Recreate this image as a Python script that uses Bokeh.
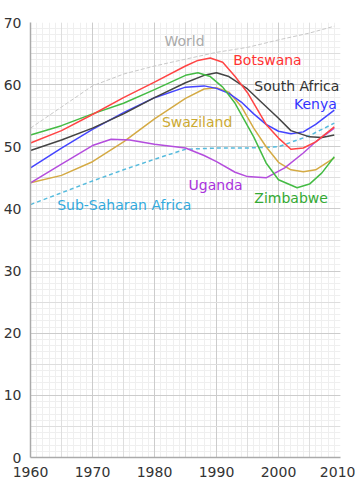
from bokeh.plotting import figure
from bokeh.models import Range1d, SingleIntervalTicker, Grid, Label
from bokeh.embed import file_html
from bokeh.resources import INLINE

# ---------------- data ----------------
world_years = [1960, 1965, 1970, 1975, 1980, 1985, 1990, 1995, 2000, 2005, 2009]
world = [53.0, 56.4, 59.8, 61.7, 63.0, 64.1, 65.2, 66.0, 67.2, 68.3, 69.4]

botswana_years = [1960, 1965, 1970, 1975, 1980, 1985, 1987, 1989, 1991, 1993, 1995, 1998, 2000, 2002, 2004, 2006, 2009]
botswana = [50.6, 52.6, 55.2, 57.9, 60.4, 63.0, 63.9, 64.3, 63.6, 61.3, 58.7, 53.6, 51.4, 49.6, 49.8, 50.8, 53.2]

zimbabwe_years = [1960, 1965, 1970, 1975, 1980, 1985, 1987, 1989, 1991, 1993, 1996, 1998, 2000, 2003, 2005, 2007, 2009]
zimbabwe = [51.9, 53.4, 55.3, 57.0, 59.2, 61.5, 61.9, 61.3, 59.6, 57.0, 51.6, 47.4, 44.7, 43.4, 44.0, 45.8, 48.4]

south_africa_years = [1960, 1965, 1970, 1975, 1980, 1985, 1988, 1990, 1992, 1995, 1997, 2000, 2002, 2005, 2007, 2009]
south_africa = [49.4, 51.1, 53.0, 55.3, 57.9, 60.3, 61.5, 61.9, 61.3, 59.3, 57.4, 54.6, 52.6, 51.6, 51.5, 51.9]

kenya_years = [1960, 1965, 1970, 1975, 1980, 1985, 1988, 1990, 1992, 1994, 1996, 1998, 2000, 2002, 2004, 2006, 2009]
kenya = [46.6, 49.8, 52.8, 55.5, 57.9, 59.6, 59.8, 59.4, 58.6, 57.2, 55.3, 53.6, 52.5, 52.1, 52.4, 53.6, 55.9]

swaziland_years = [1960, 1965, 1970, 1975, 1980, 1985, 1988, 1990, 1992, 1994, 1996, 1998, 2000, 2002, 2004, 2006, 2009]
swaziland = [44.2, 45.4, 47.6, 50.8, 54.5, 57.8, 59.3, 59.5, 58.8, 56.5, 53.0, 50.0, 47.5, 46.3, 46.0, 46.3, 48.2]

uganda_years = [1960, 1965, 1970, 1973, 1976, 1980, 1985, 1988, 1990, 1993, 1995, 1998, 2001, 2004, 2006, 2009]
uganda = [44.2, 47.2, 50.2, 51.2, 51.1, 50.4, 49.8, 48.6, 47.6, 45.9, 45.2, 45.0, 46.6, 49.0, 50.8, 53.0]

ssa_years = [1960, 1965, 1970, 1975, 1980, 1985, 1990, 1995, 2000, 2005, 2009]
ssa = [40.7, 42.6, 44.5, 46.3, 48.0, 49.6, 49.8, 49.8, 50.0, 51.8, 53.8]

x_ticks = [1960, 1970, 1980, 1990, 2000, 2010]
y_ticks = [0, 10, 20, 30, 40, 50, 60, 70]
title_text = "Life expectancy in years"

FONT = "DejaVu Sans"

p = figure(width=355, height=479, x_range=Range1d(1960, 2010), y_range=Range1d(0, 70),
           output_backend="svg", toolbar_location=None,
           min_border_left=28, min_border_right=15, min_border_top=22, min_border_bottom=20)
p.outline_line_color = None
p.background_fill_color = "white"
p.border_fill_color = "white"

# grids: 1-unit minor, 5-unit medium, 10-unit major
p.xgrid.ticker = SingleIntervalTicker(interval=1)
p.ygrid.ticker = SingleIntervalTicker(interval=1)
p.xgrid.grid_line_color = "#efefef"
p.ygrid.grid_line_color = "#efefef"
for dim in (0, 1):
    p.add_layout(Grid(dimension=dim, ticker=SingleIntervalTicker(interval=5), grid_line_color="#dedede"))
    p.add_layout(Grid(dimension=dim, ticker=SingleIntervalTicker(interval=10), grid_line_color="#cccccc"))

for ax in (p.xaxis[0], p.yaxis[0]):
    ax.major_tick_line_color = None
    ax.minor_tick_line_color = None
    ax.axis_line_color = "#aaaaaa"
    ax.axis_line_width = 1.5
    ax.major_label_text_font = FONT
    ax.major_label_text_font_size = "14px"
    ax.major_label_text_color = "#333333"
    ax.major_label_standoff = 3
p.xaxis[0].ticker = x_ticks
p.yaxis[0].ticker = y_ticks

series = [
    (world_years, world, "#c8c8c8", 1.0, "4 2"),
    (ssa_years, ssa, "#55bbdd", 1.5, "4 3"),
    (swaziland_years, swaziland, "#d4aa44", 1.5, "solid"),
    (uganda_years, uganda, "#b44ddd", 1.5, "solid"),
    (kenya_years, kenya, "#4444ff", 1.5, "solid"),
    (south_africa_years, south_africa, "#444444", 1.5, "solid"),
    (zimbabwe_years, zimbabwe, "#44bb44", 1.5, "solid"),
    (botswana_years, botswana, "#ff4444", 1.5, "solid"),
]
for xs, ys, col, w, dash in series:
    p.line(xs, ys, line_color=col, line_width=w, line_dash=dash, line_join="round")

labels = [
    ("World", 1981.6, 67.0, "#aaaaaa"),
    ("Botswana", 1992.7, 63.9, "#ff3333"),
    ("South Africa", 1996.1, 59.8, "#333333"),
    ("Kenya", 2002.5, 56.9, "#3333ff"),
    ("Swaziland", 1981.2, 54.0, "#ccaa33"),
    ("Uganda", 1985.5, 43.9, "#aa33dd"),
    ("Zimbabwe", 1996.1, 41.8, "#33aa33"),
    ("Sub-Saharan Africa", 1964.3, 40.7, "#33aadd"),
]
for txt, x, y, col in labels:
    p.add_layout(Label(x=x, y=y, text=txt, text_color=col, text_font=FONT,
                       text_font_size="14px", text_align="left", text_baseline="middle"))

p.add_layout(Label(x=1955.8, y=72.15, text=title_text, text_color="#333333", text_font=FONT,
                   text_font_size="14px", text_align="left", text_baseline="middle"))

open("out.html", "w").write(file_html(p, INLINE))
